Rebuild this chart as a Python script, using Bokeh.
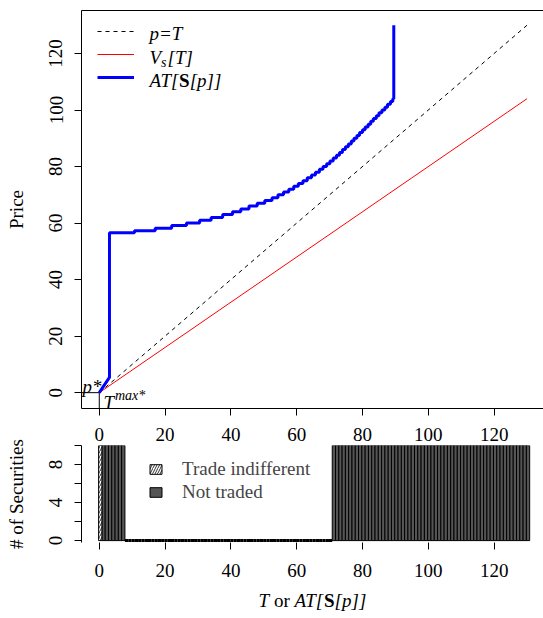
from bokeh.plotting import figure
from bokeh.models import Range1d, FixedTicker, LinearAxis, Label, Legend, LegendItem
from bokeh.layouts import column
from bokeh.embed import file_html
from bokeh.resources import INLINE

# ---------------- data ----------------
T_diag = [0, 130]          # p = T
p_diag = [0, 130]
Vs_T = [0, 104]            # V_s[T]

p_star = 0
T_max_star = 0

# AT[S[p]] curve: initial ramp, then staircase (price level, T where level ends), then vertical
at_start = [0.0, 3.1]
p_start = [0.0, 5.4]
step_levels = [56.6, 57.3, 58.2, 59.1, 60, 61, 62, 63, 64, 65, 66, 67, 68, 69, 70, 71, 72, 73,
               74, 75, 76, 77, 78, 79, 80, 81, 82, 83, 84, 85, 86, 87, 88, 89, 90, 91, 92, 93,
               94, 95, 96, 97, 98, 99, 100, 101, 102, 103, 104]
step_ends = [10.7, 17.0, 22.0, 26.5, 30.5, 34.0, 37.5, 40.5, 43.0, 45.5, 48.0, 50.3, 52.5, 54.3,
             56.0, 57.6, 59.1, 60.5, 61.9, 63.2, 64.5, 65.7, 66.9, 68.0, 69.1, 70.1, 71.1, 72.1,
             73.0, 73.9, 74.8, 75.7, 76.6, 77.4, 78.3, 79.1, 80.0, 80.8, 81.7, 82.5, 83.3, 84.2,
             85.0, 85.9, 86.8, 87.6, 88.5, 89.2, 89.5]
p_top = 130

x_ticks = [0, 20, 40, 60, 80, 100, 120]
y_ticks_top = [0, 20, 40, 60, 80, 100, 120]
y_ticks_bottom_labelled = [0, 4, 8]
y_ticks_bottom_unlabelled = [2, 6, 10]

indiff_bins = [0]
indiff_counts = [10]
notraded_bins = list(range(1, 8)) + list(range(71, 131))
notraded_counts = [10] * len(notraded_bins)
zero_bins = list(range(8, 71))
zero_counts = [0] * len(zero_bins)

# ---------------- build curve ----------------
blue_x = list(at_start)
blue_y = list(p_start)
prev = at_start[-1]
for lvl, end in zip(step_levels, step_ends):
    blue_x += [prev, end]
    blue_y += [lvl, lvl]
    prev = end
blue_x.append(prev)
blue_y.append(p_top)

FONT = "Liberation Serif"
FS = "19px"
BIN_SHIFT = -0.2

XR = Range1d(-5.4, 135.0)
YR_TOP = Range1d(-5.6, 135.2)
YR_BOT = Range1d(-0.2, 10.0)
YR_TTL = Range1d(0, 1)

FL, FW = 81, 462
TOP_T, TOP_H = 10, 398
BOT_T, BOT_H = 445, 97
BOT_MB = 44
TTL_T = TOP_T + TOP_H + 8 + 29 + BOT_H + BOT_MB
TTL_H = 618 - TTL_T


def tx(px):
    return XR.start + (px - FL) / FW * (XR.end - XR.start)


def ty_top(py):
    return YR_TOP.end - (py - TOP_T) / TOP_H * (YR_TOP.end - YR_TOP.start)


def ty_ttl(py):
    return YR_TTL.end - (py - TTL_T) / TTL_H * (YR_TTL.end - YR_TTL.start)


def style_axis(ax):
    ax.major_label_text_font = FONT
    ax.major_label_text_font_size = FS
    ax.axis_label_text_font = FONT
    ax.axis_label_text_font_size = FS
    ax.axis_label_text_font_style = "normal"
    ax.axis_label_text_color = "black"
    ax.minor_tick_line_color = None
    ax.major_tick_in = 0
    ax.major_tick_out = 7
    ax.axis_line_color = "black"
    ax.major_tick_line_color = "black"
    ax.major_label_text_color = "black"


# ---------------- top figure ----------------
top = figure(width=543, height=TOP_T + TOP_H + 8, x_range=XR, y_range=YR_TOP,
             output_backend="svg", toolbar_location=None, min_border_left=FL,
             min_border_right=0, min_border_top=TOP_T, min_border_bottom=8)
top.grid.visible = False
top.outline_line_color = None

style_axis(top.xaxis[0])
top.xaxis.ticker = FixedTicker(ticks=x_ticks)
top.xaxis.major_label_text_font_size = "1px"
top.xaxis.major_label_text_color = None
top.xaxis.major_label_standoff = 0

style_axis(top.yaxis[0])
top.yaxis.ticker = FixedTicker(ticks=y_ticks_top)
top.yaxis.major_label_orientation = "vertical"
top.yaxis.major_label_standoff = 12
top.yaxis.axis_label = "Price"
top.yaxis.axis_label_standoff = 20

top_border = LinearAxis(ticker=FixedTicker(ticks=[]), major_label_text_font_size="1px",
                        major_label_text_color=None,
                        major_tick_out=0, major_tick_in=0, minor_tick_out=0, minor_tick_in=0)
top.add_layout(top_border, "above")

r_dash = top.line(T_diag, p_diag, line_color="black", line_width=1, line_dash="4 4")
r_red = top.line(T_diag, Vs_T, line_color="red", line_width=1)
top.segment(x0=[T_max_star], y0=[YR_TOP.start], x1=[T_max_star], y1=[p_star],
            line_color="black", line_width=1)
top.segment(x0=[XR.start], y0=[p_star], x1=[T_max_star], y1=[p_star],
            line_color="black", line_width=1)
r_blue = top.line(blue_x, blue_y, line_color="blue", line_width=3)

leg_top = Legend(items=[LegendItem(label=" ", renderers=[r_dash]),
                        LegendItem(label=" ", renderers=[r_red]),
                        LegendItem(label=" ", renderers=[r_blue])],
                 location=(16, 321), glyph_width=37, glyph_height=20, label_height=20,
                 spacing=3, padding=0, margin=0, border_line_color=None,
                 background_fill_alpha=0, label_text_font_size="1px",
                 label_text_color=None)
top.add_layout(leg_top)


def lab(fig, x, y, text, style="normal", size=FS, baseline="middle", yoff=0):
    fig.add_layout(Label(x=x, y=y, text=text, text_font=FONT, text_font_size=size,
                         text_font_style=style, text_baseline=baseline, y_offset=yoff,
                         text_color="black"))


# legend texts
lab(top, tx(149), ty_top(33), "p=T", "italic")
lab(top, tx(149), ty_top(57), "V", "italic")
lab(top, tx(160.6), ty_top(57), "s", "italic", size="14px", yoff=-5)
lab(top, tx(167), ty_top(57), "[T]", "italic")
lab(top, tx(149), ty_top(80), "AT[", "italic")
lab(top, tx(178.6), ty_top(80), "S", "bold")
lab(top, tx(189.2), ty_top(80), "[p]]", "italic")

# p* and T^max*
lab(top, tx(82), ty_top(386), "p*", "italic", baseline="alphabetic")
lab(top, tx(103), ty_top(402), "T", "italic", baseline="alphabetic")
lab(top, tx(114.5), ty_top(395), "max*", "italic", size="14px", baseline="alphabetic")

# ---------------- bottom figure ----------------
bot = figure(width=543, height=29 + BOT_H + BOT_MB, x_range=XR, y_range=YR_BOT,
             output_backend="svg", toolbar_location=None, min_border_left=FL,
             min_border_right=0, min_border_top=29, min_border_bottom=BOT_MB)
bot.grid.visible = False
bot.outline_line_color = None

style_axis(bot.xaxis[0])
bot.xaxis.ticker = FixedTicker(ticks=x_ticks)
bot.xaxis.axis_line_color = None
bot.xaxis.major_label_standoff = 14

style_axis(bot.yaxis[0])
bot.yaxis.ticker = FixedTicker(ticks=y_ticks_bottom_labelled,
                               minor_ticks=y_ticks_bottom_unlabelled)
bot.yaxis.minor_tick_line_color = "black"
bot.yaxis.minor_tick_out = 7
bot.yaxis.minor_tick_in = 0
bot.yaxis.major_label_orientation = "vertical"
bot.yaxis.major_label_standoff = 12
bot.yaxis.axis_label = "# of Securities"
bot.yaxis.axis_label_standoff = 20

# tick labels of the upper panel's x axis
upper_labels = LinearAxis(ticker=FixedTicker(ticks=x_ticks), axis_line_color=None,
                          major_tick_line_color=None, minor_tick_line_color=None,
                          major_tick_out=0, major_tick_in=0, major_label_standoff=5,
                          major_label_text_font=FONT, major_label_text_font_size=FS,
                          major_label_text_color="black")
bot.add_layout(upper_labels, "above")

bot.quad(left=[b + BIN_SHIFT for b in zero_bins], right=[b + 1 + BIN_SHIFT for b in zero_bins],
         bottom=0, top=zero_counts, line_color="black", line_width=3, fill_color=None)
r_nt = bot.quad(left=[b + BIN_SHIFT for b in notraded_bins],
                right=[b + 1 + BIN_SHIFT for b in notraded_bins],
                bottom=0, top=notraded_counts, fill_color="#555555", line_color="black",
                line_width=1)
r_ind = bot.quad(left=[b + BIN_SHIFT for b in indiff_bins],
                 right=[b + 1 + BIN_SHIFT for b in indiff_bins],
                 bottom=0, top=indiff_counts, fill_color="white", hatch_pattern="/",
                 hatch_color="black", hatch_scale=5, hatch_weight=0.8,
                 line_color="black", line_width=1)

leg_bot = Legend(items=[LegendItem(label="Trade indifferent", renderers=[r_ind]),
                        LegendItem(label="Not traded", renderers=[r_nt])],
                 location=(67, 39), glyph_width=15, glyph_height=12, label_standoff=19,
                 label_text_font=FONT, label_text_font_size=FS, label_height=20,
                 spacing=1, padding=0, margin=0, border_line_color=None,
                 background_fill_alpha=0)
bot.add_layout(leg_bot)

# ---------------- x axis title strip: T or AT[S[p]] ----------------
ttl = figure(width=543, height=TTL_H, x_range=XR, y_range=YR_TTL, output_backend="svg",
             toolbar_location=None, min_border_left=FL, min_border_right=0,
             min_border_top=0, min_border_bottom=0, x_axis_location=None,
             y_axis_location=None)
ttl.grid.visible = False
ttl.outline_line_color = None

yb = ty_ttl(600)
lab(ttl, tx(258), yb, "T", "italic", baseline="alphabetic")
lab(ttl, tx(273.4), yb, "or", "normal", baseline="alphabetic")
lab(ttl, tx(293.9), yb, "AT[", "italic", baseline="alphabetic")
lab(ttl, tx(323.5), yb, "S", "bold", baseline="alphabetic")
lab(ttl, tx(334.1), yb, "[p]]", "italic", baseline="alphabetic")

layout = column(top, bot, ttl, spacing=0)
open("out.html", "w").write(file_html(layout, INLINE))
